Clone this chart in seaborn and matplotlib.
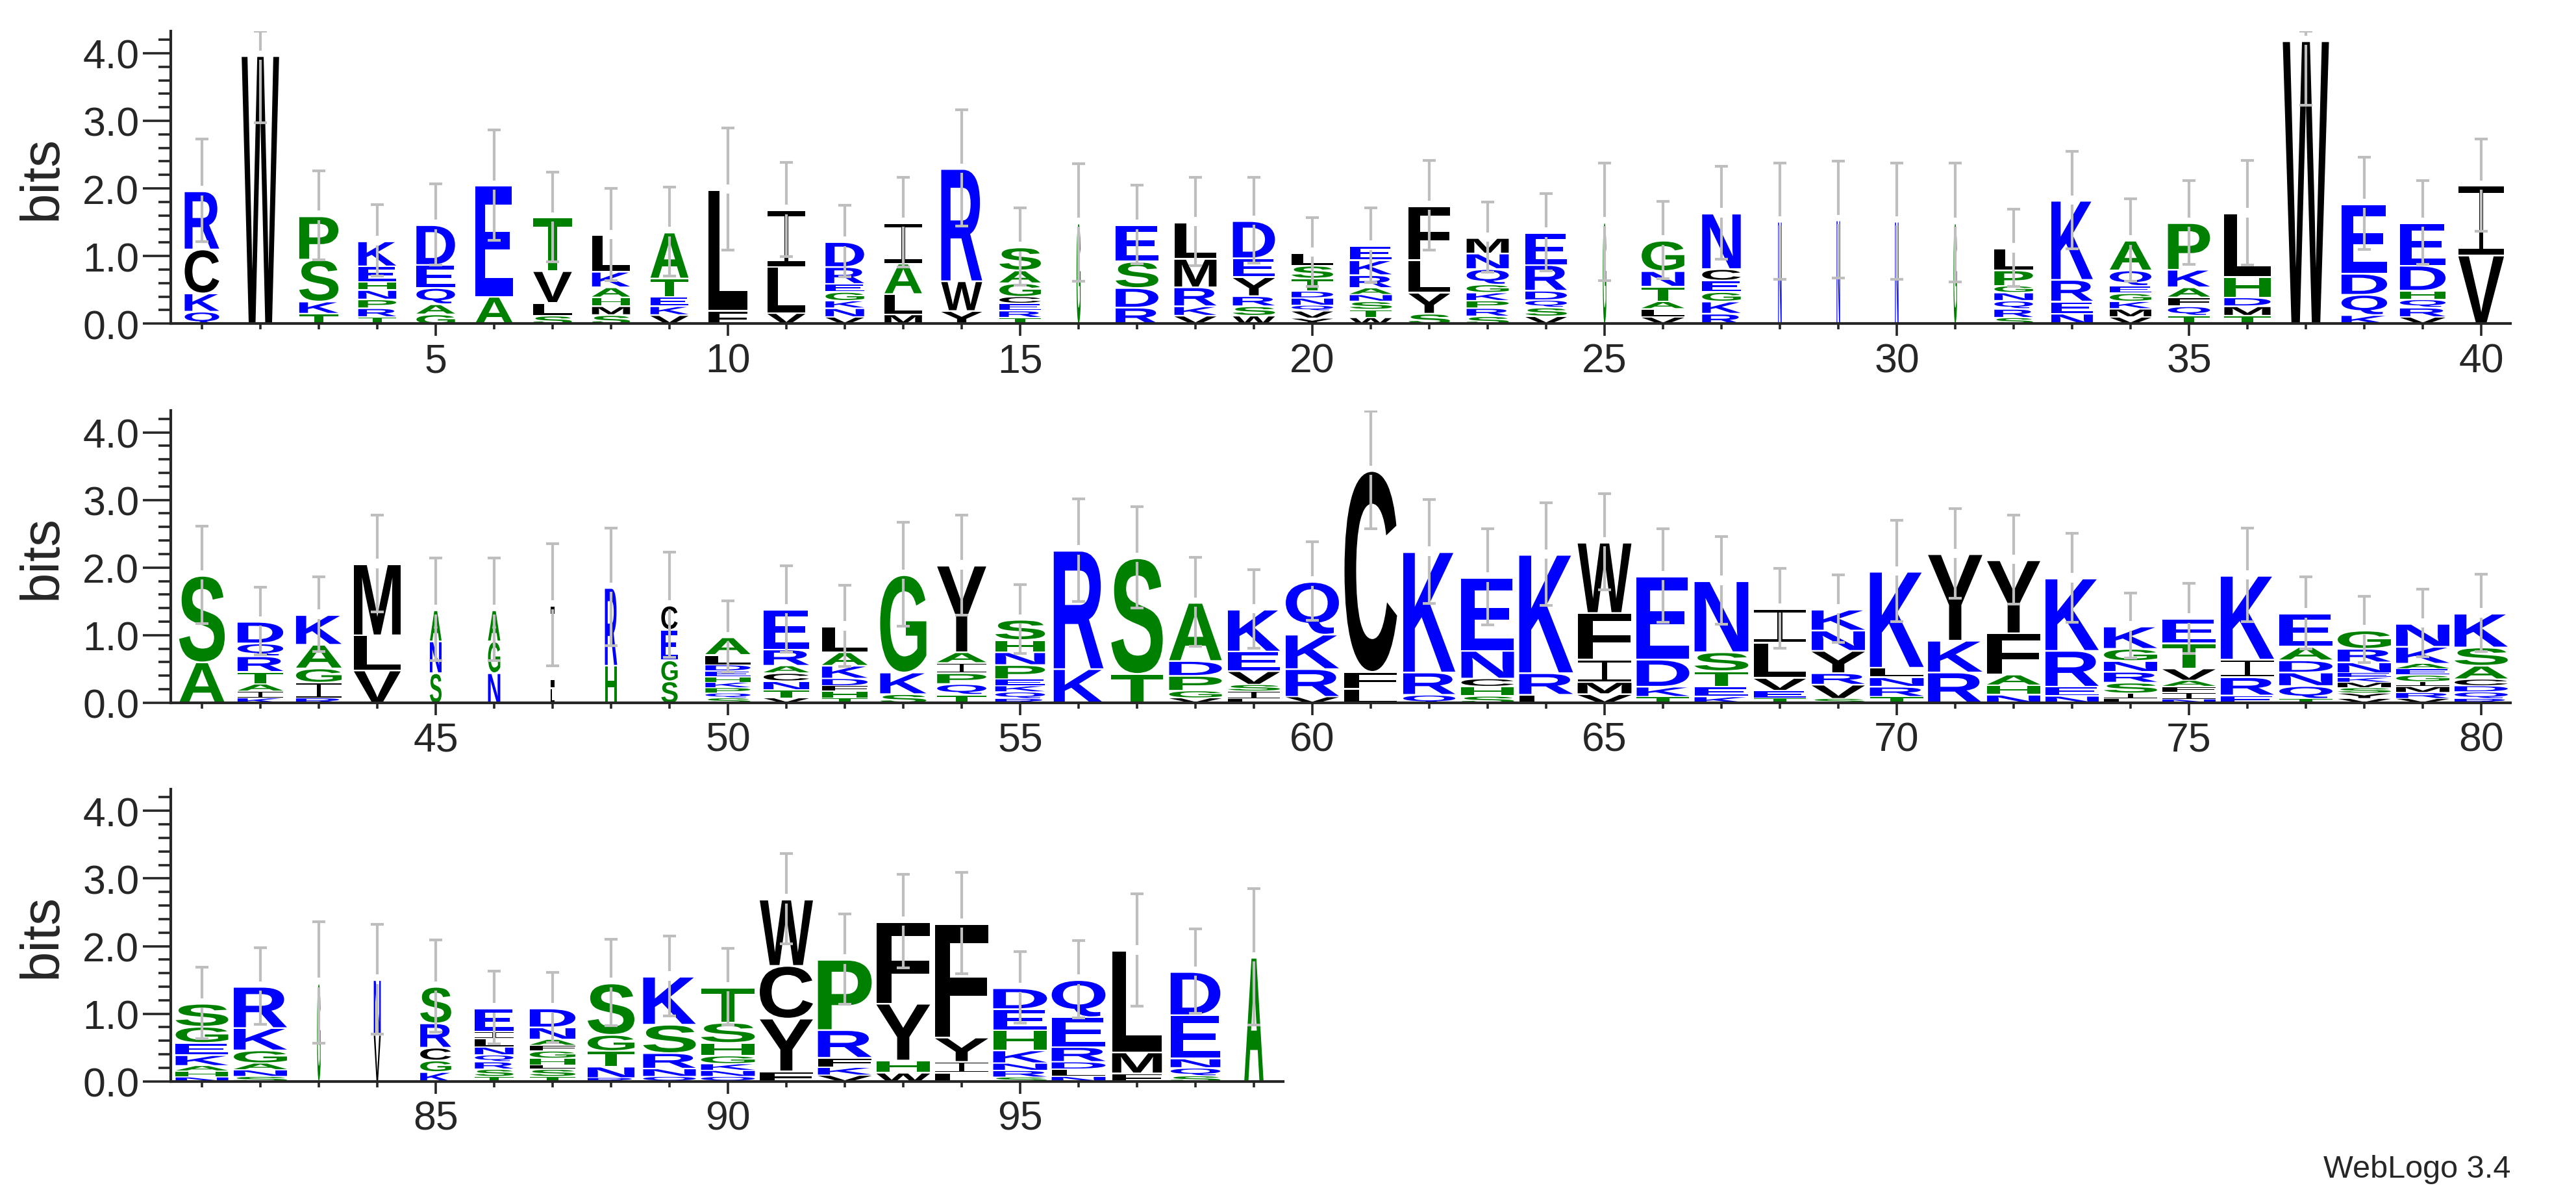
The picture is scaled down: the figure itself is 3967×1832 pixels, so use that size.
"""
Protein sequence logo (WebLogo style), redrawn with seaborn/matplotlib.
Letters are glyph paths stretched to fill each stack slot.
"""

import matplotlib
matplotlib.use("Agg")
import matplotlib.pyplot as plt
import seaborn as sns
from matplotlib.textpath import TextPath
from matplotlib.font_manager import FontProperties
from matplotlib.patches import PathPatch
from matplotlib.path import Path
from matplotlib.transforms import Affine2D
from matplotlib.ticker import MultipleLocator, FormatStrFormatter

# letters of each stack, bottom to top, one string per position 1..99
stacks = [
    "QKCR", "W", "TKSP", "TRPNHEK", "GAQED", "AE", "SLVT", "SMHAKL", "VKETA", "FL",
    "VLI", "VNKGERD", "MLAI", "YWR", "TRECGAS", "G", "RDSE", "VKRML", "WSRYED", "YVQNDTSL",
    "WTSNARKE", "SYLF", "SRPKGQNM", "VSQDRE", "G", "VLATNG", "RKGECN", "N", "N", "N",
    "G", "SRQNGPL", "NERK", "VMKGEQA", "TQFAKP", "TMDHL", "W", "KQDE", "VRQHDE", "VI",
    "AS", "KIATRQD", "RIGAK", "VLM", "SNA", "NGA", "LI", "HR", "SGEC", "SQPKHEDLA",
    "VTNCARE", "THFDKAL", "SKG", "TQPIAY", "RQKEPNHS", "KR", "TS", "VGPDA", "LISVEK", "VRKQ",
    "LFC", "QRK", "SHCNE", "LRK", "VMIFW", "TKDE", "KETSN", "TEVLI", "SVRYNK", "TRNLK",
    "RKY", "NHAFY", "NERK", "LISRNGK", "NIFAVTE", "ERIK", "TQNDAE", "VYSMKENRG", "VRMIGEAKN", "RQDCASK",
    "NHAKEGS", "SNAGKR", "G", "VN", "KGCRS", "TSRQNLIE", "TSLHGFAND", "RNTGS", "QNRSK", "QNKGHST",
    "FYCW", "VKFRP", "WHYF", "LIYF", "SRNKHED", "NLDREQ", "FML", "SQNED", "A",
]

# letter heights in bits, same order as stacks
heights = [
    [.19, .27, .65, .86], [3.97], [.16, .18, .62, .64], [.11, .13, .13, .14, .12, .23, .37],
    [.15, .15, .24, .34, .59], [.41, 1.64], [.13, .19, .47, .79], [.14, .13, .13, .15, .23, .54],
    [.14, .13, .14, .27, .68], [.20, 1.79],
    [.17, .68, .84], [.11, .13, .11, .13, .12, .25, .37], [.15, .30, .45, .60], [.20, .44, 1.66],
    [.10, .10, .11, .10, .20, .19, .34], [1.50], [.25, .29, .39, .54], [.13, .14, .28, .42, .54],
    [.13, .14, .15, .28, .28, .55], [.09, .11, .08, .11, .10, .19, .19, .19],
    [.10, .12, .12, .10, .10, .19, .22, .21], [.16, .31, .48, .80],
    [.12, .12, .11, .12, .12, .23, .23, .23], [.12, .13, .11, .14, .38, .47], [1.51],
    [.11, .12, .11, .22, .23, .45], [.16, .18, .14, .17, .17, .82], [1.52], [1.54], [1.52],
    [1.50], [.10, .13, .12, .12, .10, .23, .32], [.16, .18, .32, 1.17],
    [.11, .12, .11, .12, .11, .23, .44], [.13, .14, .13, .15, .26, .69], [.13, .14, .13, .30, .94],
    [4.19], [.14, .30, .31, 1.03], [.11, .14, .12, .13, .37, .63], [1.02, 1.03],
    [.61, 1.28], [.08, .10, .11, .18, .23, .19, .32], [.08, .23, .21, .35, .44], [.49, .52, 1.05],
    [.45, .47, .46], [.45, .47, .46], [.23, 1.22], [.56, 1.15], [.33, .31, .45, .36],
    [.08, .07, .08, .08, .08, .09, .09, .15, .26],
    [.08, .12, .13, .12, .11, .24, .59], [.08, .10, .08, .11, .19, .20, .38], [.14, .32, 1.44],
    [.13, .16, .16, .15, .16, 1.28], [.07, .10, .09, .10, .21, .19, .18, .30], [.51, 1.75],
    [.44, 1.71], [.08, .11, .22, .22, .86], [.07, .11, .10, .20, .29, .62], [.10, .41, .51, .78],
    [.22, .25, 2.97], [.13, .33, 1.78], [.11, .14, .12, .41, 1.08], [.13, .32, 1.75],
    [.14, .18, .33, .69, 1.04], [.10, .15, .40, 1.23], [.10, .15, .23, .28, 1.05],
    [.08, .11, .19, .52, .50], [.07, .21, .17, .33, .30, .31], [.10, .15, .14, .14, 1.42],
    [.46, .47, 1.28], [.13, .14, .16, .61, 1.08], [.11, .14, .53, 1.07],
    [.07, .08, .16, .16, .16, .18, .33], [.06, .10, .09, .09, .18, .37, .36], [.12, .27, .26, 1.24],
    [.07, .19, .20, .18, .20, .49], [.07, .08, .08, .08, .07, .07, .16, .20, .27],
    [.07, .09, .09, .07, .10, .09, .08, .25, .34], [.07, .10, .09, .10, .20, .27, .50],
    [.07, .09, .08, .16, .18, .24, .34], [.08, .10, .10, .19, .33, .61], [1.46], [.70, .81],
    [.15, .17, .19, .36, .54], [.08, .11, .11, .10, .12, .12, .11, .34],
    [.08, .11, .06, .10, .11, .08, .09, .18, .28], [.06, .17, .23, .24, .76],
    [.08, .12, .23, .42, .71], [.08, .09, .10, .12, .19, .30, .52],
    [.16, .78, .78, .98], [.10, .12, .14, .41, 1.04], [.14, .18, .84, 1.21], [.14, .16, .36, 1.68],
    [.07, .10, .11, .19, .30, .31, .31], [.08, .11, .11, .22, .44, .55], [.13, .31, 1.50],
    [.09, .12, .14, .64, .64], [1.84],
]

# visible stack width (fraction of a column), scaled by occupancy
widths = [
    .59, .64, .67, .65, .66, .65, .66, .65, .65, .67,
    .65, .66, .64, .70, .71, .07, .73, .72, .72, .71,
    .72, .71, .72, .71, .06, .73, .66, .06, .06, .06,
    .06, .66, .71, .71, .72, .79, .79, .78, .78, .78,
    .78, .78, .78, .80, .20, .21, .07, .21, .28, .77,
    .78, .78, .79, .84, .85, .85, .88, .90, .89, .91,
    .90, .89, .90, .92, .92, .90, .92, .89, .91, .92,
    .93, .91, .91, .91, .91, .91, .91, .91, .91, .91,
    .90, .91, .06, .12, .53, .66, .78, .80, .90, .92,
    .91, .92, .92, .91, .92, .92, .85, .85, .33,
]

# error bar half-lengths (bits)
errors = [
    .76, 1.00, .66, .53, .60, .82, .66, .68, .66, .90,
    .70, .53, .66, .86, .57, .87, .58, .65, .63, .51,
    .55, .66, .52, .57, .87, .57, .69, .86, .86, .86,
    .88, .57, .72, .61, .62, .77, .96, .68, .62, .68,
    .72, .50, .55, .72, .76, .76, .90, .87, .78, .53,
    .64, .60, .77, .74, .51, .76, .75, .66, .58, .58,
    .87, .77, .71, .76, .71, .69, .65, .59, .50, .75,
    .66, .66, .66, .48, .52, .69, .53, .49, .50, .57,
    .53, .57, .90, .81, .68, .54, .52, .64, .59, .57,
    .67, .67, .69, .75, .53, .57, .83, .62, 1.01,
]

row_starts = [1, 41, 81]
row_ends = [40, 80, 99]

# hydrophobicity colour scheme
BLUE, GREEN, BLACK = "#0000ff", "#008000", "#000000"
colors = {}
for aa in "RKDENQ":
    colors[aa] = BLUE
for aa in "SGHTAP":
    colors[aa] = GREEN
for aa in "YVMCLFIW":
    colors[aa] = BLACK

YMAX = 4.3219  # log2(20)
GRAY = "#bebebe"

sns.set_style("ticks")
plt.rcParams["font.family"] = ["Liberation Sans", "DejaVu Sans"]

fp = FontProperties(family="Liberation Sans", weight="bold")
_glyphs = {}


def glyph(letter):
    """Unit-square path for one letter."""
    if letter in _glyphs:
        return _glyphs[letter]
    if letter == "I":
        b, s = 0.09, 0.09
        verts = [(0, 0), (1, 0), (1, b), (0.5 + s / 2, b), (0.5 + s / 2, 1 - b), (1, 1 - b),
                 (1, 1), (0, 1), (0, 1 - b), (0.5 - s / 2, 1 - b), (0.5 - s / 2, b), (0, b), (0, 0)]
        codes = [Path.MOVETO] + [Path.LINETO] * 11 + [Path.CLOSEPOLY]
        path = Path(verts, codes)
    else:
        tp = TextPath((0, 0), letter, size=1, prop=fp)
        ext = tp.get_extents()
        path = Affine2D().translate(-ext.x0, -ext.y0).scale(1 / ext.width, 1 / ext.height).transform_path(tp)
    _glyphs[letter] = path
    return path


def draw_letter(ax, letter, x, y0, w, h):
    # leave a thin white gap above each letter, as WebLogo does
    gap = min(0.025, 0.18 * h)
    path = Affine2D().scale(w, h - gap).translate(x - w / 2, y0).transform_path(glyph(letter))
    ax.add_patch(PathPatch(path, facecolor=colors[letter], edgecolor="none", lw=0))


def draw_errorbar(ax, x, center, err):
    top = min(center + err, YMAX)
    bot = center - err
    gap = 0.07
    cap = 0.115
    kw = dict(color=GRAY, lw=3, solid_capstyle="butt", zorder=5)
    ax.plot([x, x], [center + gap, top], **kw)
    ax.plot([x, x], [bot, center - gap], **kw)
    ax.plot([x - cap, x + cap], [top, top], **kw)
    ax.plot([x - cap, x + cap], [bot, bot], **kw)


W_PX, H_PX = 3967, 1833
fig = plt.figure(figsize=(W_PX / 100, H_PX / 100), dpi=100)

col_px = 90.0        # pixels per position
bit_px = 104.1       # pixels per bit
left_px = 263.0
baselines_px = [499.3, 1082.9, 1665.7]

for r, (start, end) in enumerate(zip(row_starts, row_ends)):
    x0 = start - 0.5333
    x1 = end + 0.5
    width_px = (x1 - x0) * col_px
    ax = fig.add_axes([left_px / W_PX, 1 - baselines_px[r] / H_PX,
                       width_px / W_PX, YMAX * bit_px / H_PX])
    ax.set_xlim(x0, x1)
    ax.set_ylim(0, YMAX)

    for pos in range(start, end + 1):
        i = pos - 1
        w = widths[i]
        y = 0.0
        for letter, h in zip(stacks[i], heights[i]):
            draw_letter(ax, letter, pos, y, w, h)
            y += h
        draw_errorbar(ax, pos, y, errors[i])

    sns.despine(ax=ax)
    for side in ["left", "bottom"]:
        ax.spines[side].set_linewidth(3)
    ax.spines["left"].set_bounds(0, YMAX)

    ax.yaxis.set_major_locator(MultipleLocator(1))
    ax.yaxis.set_minor_locator(MultipleLocator(0.2))
    ax.yaxis.set_major_formatter(FormatStrFormatter("%.1f"))
    ax.set_xticks([p for p in range(start, end + 1) if p % 5 == 0])
    ax.set_xticks(list(range(start, end + 1)), minor=True)

    ax.tick_params(axis="y", which="major", length=31, width=2.6, labelsize=45, pad=4)
    ax.tick_params(axis="y", which="minor", length=14, width=2.6)
    ax.tick_params(axis="x", which="major", length=14, width=2.6, labelsize=45, pad=6)
    ax.tick_params(axis="x", which="minor", length=6.5, width=2.6)

    # y label: right edge of the rotated text sits ~102 px from the figure edge
    ax.set_ylabel("bits", fontsize=60)
    ax.yaxis.set_label_coords((104 - left_px) / width_px, 0.5)
    ax.grid(False)

fig.text(3866 / W_PX, 1 - 1801 / H_PX, "WebLogo 3.4", ha="right", va="center", fontsize=35)

fig.savefig("out.png", dpi=100)
